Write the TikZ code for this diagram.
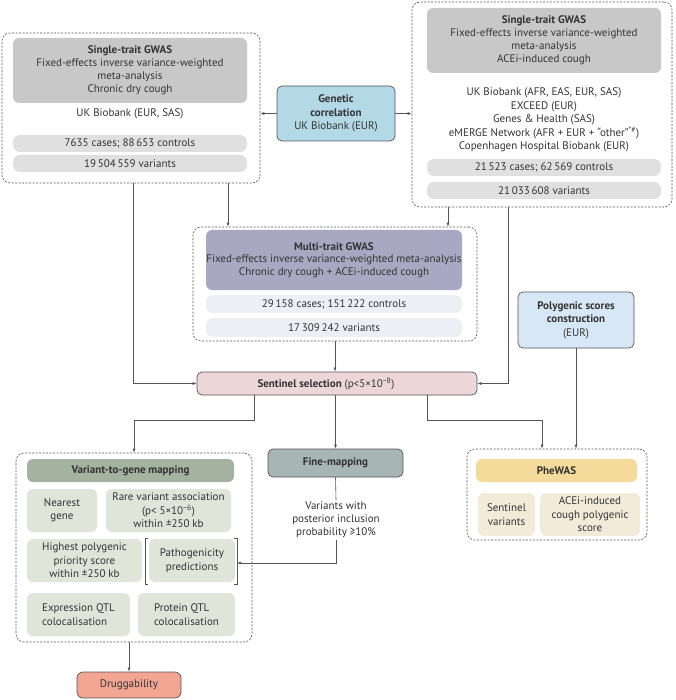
\documentclass[tikz,border=0pt]{standalone}
\usepackage{fontspec}
\setmainfont{PT Sans}
\usetikzlibrary{arrows.meta}
\definecolor{txt}{HTML}{333333}
\definecolor{ln}{HTML}{555555}
\definecolor{hdgray}{HTML}{C8C8C8}
\definecolor{pillgray}{HTML}{E0E0E0}
\definecolor{gcblue}{HTML}{B3D8E6}
\definecolor{pgblue}{HTML}{D8E7F5}
\definecolor{mthd}{HTML}{A8A8C2}
\definecolor{mtpill}{HTML}{EEEEF5}
\definecolor{sentpink}{HTML}{EDD6D7}
\definecolor{vghd}{HTML}{A3B39F}
\definecolor{vgsub}{HTML}{DFE5D8}
\definecolor{fmgray}{HTML}{A7B5B5}
\definecolor{pwhd}{HTML}{F4DA9B}
\definecolor{pwsub}{HTML}{F3EBDA}
\definecolor{drug}{HTML}{F2A593}
\tikzset{
  base/.style={rectangle, inner sep=0pt, align=center, text=txt},
  outer/.style={base, draw=ln, dashed, dash pattern=on 2pt off 1.5pt, line width=0.6pt, rounded corners=8pt},
  flat/.style={base, rounded corners=6pt},
  pill/.style={base, rounded corners=7pt},
  solidbox/.style={base, draw=ln, line width=0.7pt, rounded corners=5pt},
  plain/.style={base},
  arr/.style={draw=ln, line width=0.6pt, -{Latex[length=4pt,width=3pt]}},
  lnk/.style={draw=ln, line width=0.6pt},
  fa/.style={font=\fontsize{11}{13}\selectfont},
  fb/.style={font=\fontsize{11}{13.5}\selectfont},
}
\begin{document}
\begin{tikzpicture}[x=1pt,y=-1pt,font=\fontsize{11}{13}\selectfont]
\useasboundingbox (0,0) rectangle (675,700);

% lanes
\coordinate (L1) at (133,0);
\coordinate (L2) at (228,0);
\coordinate (L3) at (448,0);
\coordinate (L4) at (508,0);
\coordinate (S1) at (254,0);
\coordinate (S3) at (427,0);
\coordinate (P1) at (542,0);
\coordinate (Y1) at (0,420);
\coordinate (bracketR) at (237,563);

% top-left
\node[outer, minimum width=258pt, minimum height=150pt] (tlbox) at (131,108) {};
\node[flat, fill=hdgray, minimum width=234pt, minimum height=65pt] (tlhead) at (130,70.5)
  {\textbf{Single-trait GWAS}\\Fixed-effects inverse variance-weighted\\meta-analysis\\Chronic dry cough};
\node[plain] (tlsrc) at (130,114) {UK Biobank (EUR, SAS)};
\node[pill, fill=pillgray, minimum width=234pt, minimum height=17pt] (tlp1) at (130,143.5) {7635 cases; 88\,653 controls};
\node[pill, fill=pillgray, minimum width=234pt, minimum height=17pt] (tlp2) at (130,163.5) {19\,504\,559 variants};

% genetic correlation
\node[solidbox, fill=gcblue, minimum width=118pt, minimum height=55pt, fb] (gc) at (336,113.5)
  {\textbf{Genetic}\\\textbf{correlation}\\UK Biobank (EUR)};

% top-right
\node[outer, minimum width=260pt, minimum height=205pt] (trbox) at (542,104.5) {};
\node[flat, fill=hdgray, minimum width=234pt, minimum height=65pt] (trhead) at (544,40.5)
  {\textbf{Single-trait GWAS}\\Fixed-effects inverse variance-weighted\\meta-analysis\\ACEi-induced cough};
\node[plain, fb] (trsrc) at (544,120)
  {UK Biobank (AFR, EAS, EUR, SAS)\\EXCEED (EUR)\\Genes \& Health (SAS)\\eMERGE Network (AFR + EUR + “other”\textsuperscript{*\#})\\Copenhagen Hospital Biobank (EUR)};
\node[pill, fill=pillgray, minimum width=234pt, minimum height=17pt] (trp1) at (544,167.5) {21\,523 cases; 62\,569 controls};
\node[pill, fill=pillgray, minimum width=234pt, minimum height=17pt] (trp2) at (544,190.5) {21\,033\,608 variants};

% multi-trait
\node[outer, minimum width=284pt, minimum height=114pt] (mtbox) at (335,284) {};
\node[flat, fill=mthd, minimum width=256pt, minimum height=60pt, font=\fontsize{11}{12.5}\selectfont] (mthead) at (334,260)
  {\textbf{Multi-trait GWAS}\\Fixed-effects inverse variance-weighted meta-analysis\\Chronic dry cough + ACEi-induced cough};
\node[pill, fill=mtpill, minimum width=256pt, minimum height=18pt] (mtp1) at (334,304) {29\,158 cases; 151\,222 controls};
\node[pill, fill=mtpill, minimum width=256pt, minimum height=19pt] (mtp2) at (334,327.5) {17\,309\,242 variants};

% sentinel
\node[solidbox, fill=sentpink, minimum width=280pt, minimum height=23pt] (sent) at (337,383.5)
  {\textbf{Sentinel selection} (p<5×10\textsuperscript{−8})\hspace*{22pt}};

% polygenic
\node[solidbox, fill=pgblue, minimum width=116pt, minimum height=56pt, fb] (pg) at (576,320)
  {\textbf{Polygenic scores}\\\textbf{construction}\\(EUR)};

% variant-to-gene
\node[outer, minimum width=236pt, minimum height=189pt] (v2g) at (134,547.5) {};
\node[flat, fill=vghd, minimum width=207pt, minimum height=23pt] (v2ghead) at (130.5,470.5) {\textbf{Variant-to-gene mapping}};
\node[flat, fill=vgsub, minimum width=70pt, minimum height=43pt, fb] (nearest) at (62,510.5) {Nearest\\gene};
\node[flat, fill=vgsub, minimum width=125pt, minimum height=43pt, fb] (rare) at (168.5,510.5) {Rare variant association\\(p< 5×10\textsuperscript{−6})\\within ±250 kb};
\node[flat, fill=vgsub, minimum width=115pt, minimum height=43pt, fb] (highest) at (84.5,560.5) {Highest polygenic\\priority score\\within ±250 kb};
\node[flat, fill=vgsub, minimum width=86pt, minimum height=43pt, fb] (patho) at (192,560.5) {Pathogenicity\\predictions};
\node[flat, fill=vgsub, minimum width=103pt, minimum height=43pt, align=left, fb] (eqtl) at (78.5,614.5) {Expression QTL\\colocalisation};
\node[flat, fill=vgsub, minimum width=97pt, minimum height=43pt, align=left, fb] (pqtl) at (186.5,614.5) {Protein QTL\\colocalisation};
\draw[lnk] (148,538) -- (145,538) -- (145,584) -- (148,584);
\draw[lnk] (234,538) -- (237,538) -- (237,584) -- (234,584);

% fine-mapping
\node[solidbox, fill=fmgray, minimum width=135pt, minimum height=28pt] (fm) at (335.5,463) {\textbf{Fine-mapping}};
\node[plain, inner sep=2pt] (fmtext) at (336,520) {Variants with\\posterior inclusion\\probability ≥10\%};

% PheWAS
\node[outer, minimum width=180pt, minimum height=91pt] (pw) at (557,494.5) {};
\node[flat, fill=pwhd, minimum width=161pt, minimum height=23pt] (pwhead) at (556.5,470.5) {\textbf{PheWAS}};
\node[flat, fill=pwsub, minimum width=57pt, minimum height=43pt, fb] (sv) at (506.5,514.5) {Sentinel\\variants};
\node[flat, fill=pwsub, minimum width=100pt, minimum height=43pt, fb] (acei) at (590,514.5) {ACEi-induced\\cough polygenic\\score};

% druggability
\node[solidbox, fill=drug, minimum width=104pt, minimum height=26pt, rounded corners=6pt] (dr) at (129,685) {Druggability};

% connectors
\draw[arr] (gc.west) -- (gc.west -| tlbox.east);
\draw[arr] (gc.east) -- (gc.east -| trbox.west);
\draw[arr] (tlbox.south -| L1) |- (sent.west);
\draw[arr] (tlbox.south -| L2) -- (mtbox.north -| L2);
\draw[arr] (trbox.south -| L3) -- (mtbox.north -| L3);
\draw[arr] (trbox.south -| L4) |- (sent.east);
\draw[arr] (mtbox.south) -- (mtbox.south |- sent.north);
\draw[arr] (sent.south -| S1) -- (S1 |- Y1) -- (v2g.north |- Y1) -- (v2g.north);
\draw[arr] (fm.north |- sent.south) -- (fm.north);
\draw[arr] (sent.south -| S3) -- (S3 |- Y1) -- (P1 |- Y1) -- (pw.north -| P1);
\draw[arr] (pg.south) -- (pg.south |- pw.north);
\draw[lnk] (fm.south) -- (fmtext.north);
\draw[arr] (fmtext.south) |- (bracketR);
\draw[arr] (dr.north |- v2g.south) -- (dr.north);
\end{tikzpicture}
\end{document}
